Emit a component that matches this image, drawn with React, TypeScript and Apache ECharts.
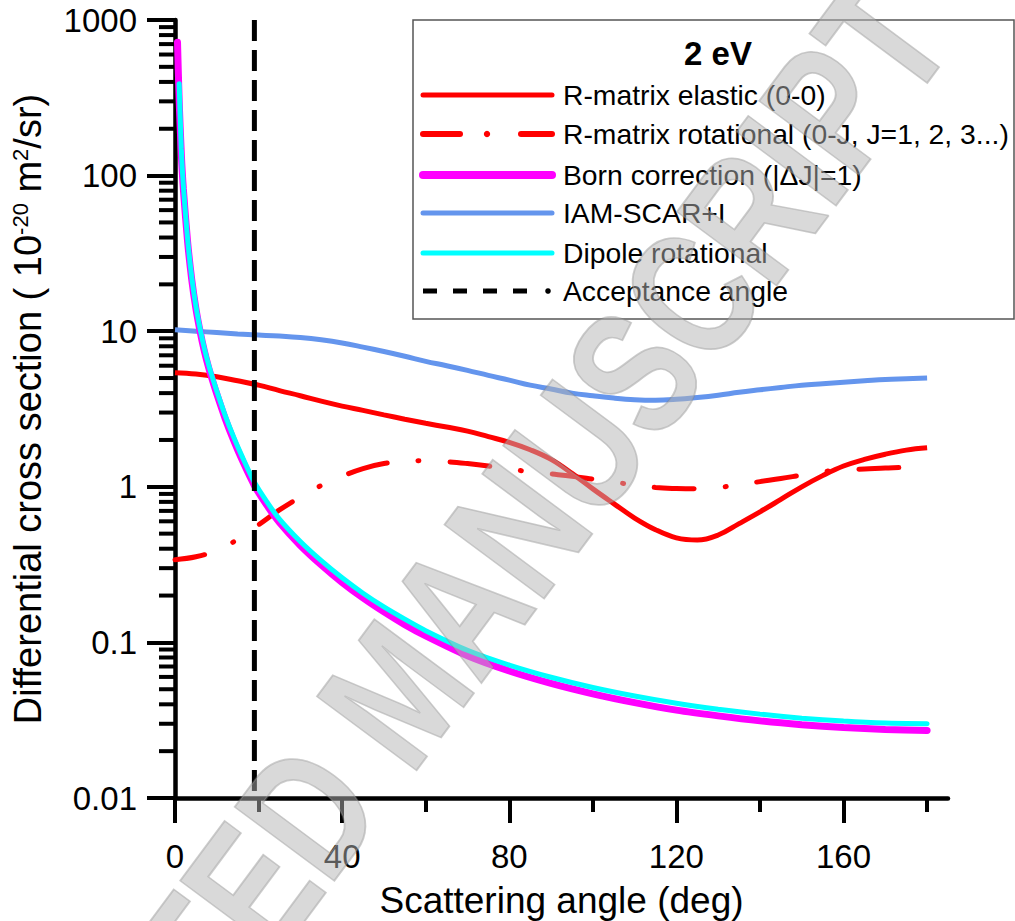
import React, { useEffect, useRef } from "react";
import * as echarts from "echarts";

// ---------- data ----------
const coarseAngles = [0, 5, 10, 15, 20, 25, 30, 35, 40, 45, 50, 55, 60, 65, 70, 75, 80, 85, 90, 95, 100, 105, 110, 115, 120, 125, 130, 135, 140, 145, 150, 155, 160, 165, 170, 175, 180];

const elasticValues = [5.4, 5.3, 5.1, 4.8, 4.5, 4.15, 3.85, 3.55, 3.3, 3.1, 2.9, 2.72, 2.56, 2.42, 2.28, 2.1, 1.93, 1.73, 1.5, 1.22, 0.97, 0.78, 0.63, 0.53, 0.47, 0.455, 0.49, 0.58, 0.69, 0.83, 1.0, 1.18, 1.36, 1.5, 1.62, 1.72, 1.78];

const rotationalValues = [0.34, 0.355, 0.39, 0.46, 0.57, 0.71, 0.86, 1.02, 1.17, 1.31, 1.41, 1.46, 1.47, 1.45, 1.41, 1.36, 1.3, 1.25, 1.21, 1.17, 1.12, 1.07, 1.03, 0.99, 0.975, 0.97, 0.99, 1.03, 1.08, 1.13, 1.19, 1.25, 1.29, 1.3, 1.32, 1.33, 1.33];

const iamValues = [10.2, 10.0, 9.8, 9.6, 9.45, 9.3, 9.1, 8.8, 8.4, 7.9, 7.4, 6.9, 6.4, 6.0, 5.6, 5.2, 4.85, 4.5, 4.25, 4.0, 3.85, 3.72, 3.63, 3.6, 3.65, 3.75, 3.88, 4.05, 4.2, 4.35, 4.5, 4.6, 4.7, 4.8, 4.9, 4.95, 5.0];

const bornAngles = [0.6, 1, 1.5, 2, 3, 4, 5, 6, 7, 8, 9, 10, 12, 14, 16, 19, 22, 25, 30, 35, 40, 45, 50, 55, 60, 70, 80, 90, 100, 110, 120, 130, 140, 150, 160, 170, 180];
const bornValues = [720, 300, 140, 82, 38, 21.5, 14, 10, 7.5, 5.9, 4.8, 3.95, 2.75, 2.0, 1.5, 1.02, 0.76, 0.59, 0.42, 0.315, 0.243, 0.193, 0.157, 0.13, 0.11, 0.082, 0.0655, 0.0545, 0.0467, 0.041, 0.0367, 0.0337, 0.0313, 0.0296, 0.0284, 0.0276, 0.0272];

const dipoleAngles = [1, 1.5, 2, 3, 4, 5, 6, 7, 8, 9, 10, 12, 14, 16, 19, 22, 25, 30, 35, 40, 45, 50, 55, 60, 70, 80, 90, 100, 110, 120, 130, 140, 150, 160, 170, 180];
const dipoleValues = [390, 150, 86, 39.5, 22.3, 14.5, 10.4, 7.8, 6.15, 5.0, 4.12, 2.88, 2.1, 1.58, 1.07, 0.8, 0.62, 0.445, 0.335, 0.26, 0.207, 0.169, 0.141, 0.119, 0.089, 0.0715, 0.0597, 0.0513, 0.0452, 0.0406, 0.0372, 0.0346, 0.0326, 0.0312, 0.0303, 0.03];

const acceptanceAngle = 19;
const acceptanceRange = [1000, 0.01];

const xMajorTicks = [0, 40, 80, 120, 160];
const xMinorTicks = [20, 60, 100, 140, 180];
const yDecades = [0.01, 0.1, 1, 10, 100, 1000];
const yMinorMultipliers = [2, 3, 4, 5, 6, 7, 8, 9];

const energyLabel = "2 eV";
const legendLabels = [
  "R-matrix elastic (0-0)",
  "R-matrix rotational (0-J, J=1, 2, 3...)",
  "Born correction (|\u0394J|=1)",
  "IAM-SCAR+I",
  "Dipole rotational",
  "Acceptance angle",
];
const xTitle = "Scattering angle (deg)";
const yTitle = "Differential cross section ( 10{sup|-20} m{sup|2}/sr)";
const watermarkText = "ACCEPTED MANUSCRIPT";

// ---------- helpers ----------
const zip = (xs: number[], ys: number[]) => xs.map((x, i) => [x, ys[i]]);
const FONT = "'Liberation Sans', Arial, Helvetica, sans-serif";

const RED = "#FF0000";
const MAGENTA = "#FF00FF";
const BLUE = "#6495ED";
const CYAN = "#00FFFF";

export default function App() {
  const ref = useRef<HTMLDivElement>(null);

  useEffect(() => {
    if (!ref.current) return;
    const chart = echarts.init(ref.current, null, { renderer: "svg" });

    // minor tick values of the log axis (2..9 per decade), drawn at x = 0
    const minorTickValues: number[][] = [];
    yDecades.slice(0, -1).forEach((d) =>
      yMinorMultipliers.forEach((m) => minorTickValues.push([0, +(d * m).toPrecision(3)]))
    );

    // legend layout
    const legX1 = 423;
    const legX2 = 552;
    const textX = 563;
    const rowsY = [95, 134, 175, 213, 253, 291];
    const legendGraphics: any[] = [
      {
        type: "rect",
        shape: { x: 413, y: 20, width: 601, height: 299 },
        style: { fill: "#ffffff", stroke: "#555555", lineWidth: 1.5 },
        z: 10,
      },
      {
        type: "text",
        x: 718,
        y: 53,
        style: {
          text: energyLabel,
          fill: "#000",
          fontSize: 33,
          fontWeight: "bold",
          fontFamily: FONT,
          align: "center",
          verticalAlign: "middle",
        },
        z: 11,
      },
      { type: "line", shape: { x1: legX1, y1: rowsY[0], x2: legX2, y2: rowsY[0] }, style: { stroke: RED, lineWidth: 5, lineCap: "round" }, z: 11 },
      { type: "line", shape: { x1: legX1, y1: rowsY[1], x2: 460, y2: rowsY[1] }, style: { stroke: RED, lineWidth: 6, lineCap: "round" }, z: 11 },
      { type: "circle", shape: { cx: 487, cy: rowsY[1], r: 3.2 }, style: { fill: RED }, z: 11 },
      { type: "line", shape: { x1: 521, y1: rowsY[1], x2: legX2, y2: rowsY[1] }, style: { stroke: RED, lineWidth: 6, lineCap: "round" }, z: 11 },
      { type: "line", shape: { x1: legX1, y1: rowsY[2], x2: legX2, y2: rowsY[2] }, style: { stroke: MAGENTA, lineWidth: 8, lineCap: "round" }, z: 11 },
      { type: "line", shape: { x1: legX1, y1: rowsY[3], x2: legX2, y2: rowsY[3] }, style: { stroke: BLUE, lineWidth: 5, lineCap: "round" }, z: 11 },
      { type: "line", shape: { x1: legX1, y1: rowsY[4], x2: legX2, y2: rowsY[4] }, style: { stroke: CYAN, lineWidth: 5, lineCap: "round" }, z: 11 },
      { type: "line", shape: { x1: legX1, y1: rowsY[5], x2: 531, y2: rowsY[5] }, style: { stroke: "#000", lineWidth: 5, lineDash: [14, 16] }, z: 11 },
      { type: "circle", shape: { cx: 548, cy: rowsY[5], r: 2.8 }, style: { fill: "#000" }, z: 11 },
    ];
    legendLabels.forEach((label, i) => {
      legendGraphics.push({
        type: "text",
        x: textX,
        y: rowsY[i],
        style: {
          text: label,
          fill: "#000",
          fontSize: 28.3,
          fontFamily: FONT,
          align: "left",
          verticalAlign: "middle",
        },
        z: 11,
      });
    });

    const watermark = {
      type: "text",
      x: 908,
      y: 4,
      rotation: (53.4 * Math.PI) / 180,
      scaleX: 0.765,
      scaleY: 1,
      silent: true,
      style: {
        text: watermarkText,
        fontSize: 180,
        fontWeight: "bold",
        fontFamily: FONT,
        fill: "rgba(180,180,180,0.5)",
        stroke: "rgba(130,130,130,0.4)",
        lineWidth: 2,
        align: "right",
        verticalAlign: "middle",
      },
      z: 100,
    };

    const option: any = {
      animation: false,
      backgroundColor: "#ffffff",
      grid: {
        left: 175,
        top: 20,
        width: 773,
        height: 778,
        containLabel: false,
        outerBoundsMode: "none",
      },
      xAxis: [
        {
          type: "value",
          min: 0,
          max: 185,
          position: "bottom",
          name: xTitle,
          nameLocation: "middle",
          nameGap: 84,
          nameTextStyle: { fontSize: 37, color: "#000", fontFamily: FONT },
          axisLine: { show: true, onZero: false, lineStyle: { color: "#000", width: 4.5 } },
          axisTick: { show: true, customValues: xMajorTicks, length: 25, inside: false, lineStyle: { color: "#000", width: 4 } },
          axisLabel: { show: true, customValues: xMajorTicks, fontSize: 33, margin: 42, color: "#000", fontFamily: FONT },
          splitLine: { show: false },
        },
        {
          type: "value",
          min: 0,
          max: 185,
          position: "bottom",
          axisLine: { show: false, onZero: false },
          axisTick: { show: true, customValues: xMinorTicks, length: 14, inside: false, lineStyle: { color: "#000", width: 4 } },
          axisLabel: { show: false },
          splitLine: { show: false },
        },
      ],
      yAxis: {
        type: "log",
        logBase: 10,
        min: 0.01,
        max: 1000,
        position: "left",
        name: yTitle,
        nameLocation: "middle",
        nameGap: 128,
        nameRotate: 90,
        nameTextStyle: {
          fontSize: 38,
          color: "#000",
          fontFamily: FONT,
          rich: {
            sup: { fontSize: 22, color: "#000", fontFamily: FONT, verticalAlign: "top" },
          },
        },
        axisLine: { show: true, onZero: false, lineStyle: { color: "#000", width: 4.5 } },
        axisTick: { show: true, length: 28, inside: false, lineStyle: { color: "#000", width: 4 } },
        axisLabel: {
          show: true,
          fontSize: 33,
          margin: 38,
          color: "#000",
          fontFamily: FONT,
          formatter: (v: number) => {
            const e = Math.round(Math.log10(v));
            return e < 0 ? Math.pow(10, e).toFixed(-e) : String(Math.pow(10, e));
          },
        },
        splitLine: { show: false },
        minorTick: { show: false },
      },
      graphic: [...legendGraphics, watermark],
      series: [
        {
          name: "minor ticks",
          type: "scatter",
          silent: true,
          clip: false,
          data: minorTickValues,
          symbol: "rect",
          symbolSize: [16, 4],
          symbolOffset: [-8, 0],
          itemStyle: { color: "#000", opacity: 1 },
          z: 1,
        },
        {
          name: legendLabels[3],
          type: "line",
          data: zip(coarseAngles, iamValues),
          showSymbol: false,
          smooth: 0.4,
          lineStyle: { color: BLUE, width: 5 },
          z: 2,
        },
        {
          name: legendLabels[0],
          type: "line",
          data: zip(coarseAngles, elasticValues),
          showSymbol: false,
          smooth: 0.4,
          lineStyle: { color: RED, width: 5 },
          z: 3,
        },
        {
          name: legendLabels[1],
          type: "line",
          data: zip(coarseAngles, rotationalValues),
          showSymbol: false,
          smooth: 0.4,
          lineStyle: { color: RED, width: 5, type: [40, 31, 1, 31], dashOffset: 10, cap: "round" },
          z: 3,
        },
        {
          name: legendLabels[2],
          type: "line",
          data: zip(bornAngles, bornValues),
          showSymbol: false,
          smooth: 0.25,
          lineStyle: { color: MAGENTA, width: 7, cap: "round" },
          z: 4,
        },
        {
          name: legendLabels[4],
          type: "line",
          data: zip(dipoleAngles, dipoleValues),
          showSymbol: false,
          smooth: 0.25,
          lineStyle: { color: CYAN, width: 5, cap: "round" },
          z: 5,
        },
        {
          name: legendLabels[5],
          type: "line",
          data: acceptanceRange.map((v) => [acceptanceAngle, v]),
          showSymbol: false,
          lineStyle: { color: "#000", width: 5, type: [21, 9] },
          z: 6,
        },
      ],
    };

    chart.setOption(option);
    return () => chart.dispose();
  }, []);

  return (
    <div
      ref={ref}
      style={{ position: "absolute", left: 0, top: 0, width: 1015, height: 921, background: "#fff" }}
    />
  );
}
